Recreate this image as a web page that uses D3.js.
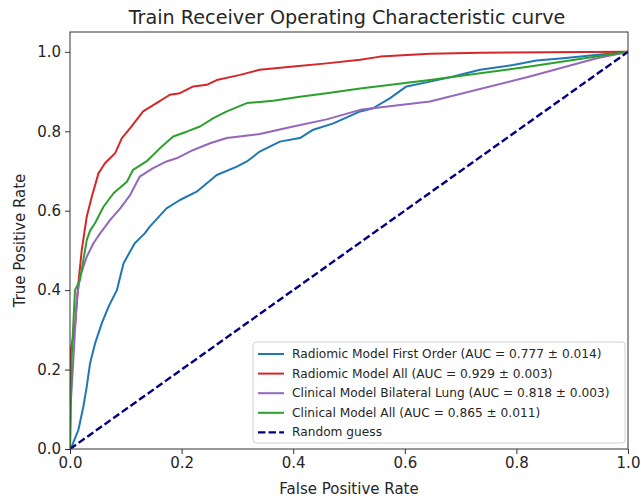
<!DOCTYPE html>
<html>
<head>
<meta charset="utf-8">
<title>Train ROC</title>
<script src="https://cdn.jsdelivr.net/npm/d3@7"></script>
<style>
  body { margin: 0; padding: 0; background: #fff; }
  text { font-family: "DejaVu Sans", sans-serif; fill: #262626; }
</style>
</head>
<body>
<div id="chart"></div>
<script>
// ---- data ----
var modelNames = [
  'Radiomic Model First Order (AUC = 0.777 ± 0.014)',
  'Radiomic Model All (AUC = 0.929 ± 0.003)',
  'Clinical Model Bilateral Lung (AUC = 0.818 ± 0.003)',
  'Clinical Model All (AUC = 0.865 ± 0.011)'
]
var modelColours = ['#1f77b4', '#d62728', '#9467bd', '#2ca02c']

var firstOrderFpr = [0, 0.003, 0.015, 0.024, 0.03, 0.036, 0.045, 0.057, 0.069, 0.084, 0.096, 0.116, 0.134, 0.143, 0.173, 0.197, 0.227, 0.263, 0.299, 0.317, 0.34, 0.376, 0.412, 0.436, 0.472, 0.52, 0.543, 0.573, 0.603, 0.645, 0.687, 0.735, 0.794, 0.836, 0.884, 1]
var firstOrderTpr = [0, 0.006, 0.048, 0.107, 0.157, 0.216, 0.266, 0.317, 0.358, 0.40, 0.468, 0.518, 0.543, 0.56, 0.606, 0.627, 0.648, 0.69, 0.711, 0.724, 0.749, 0.774, 0.783, 0.804, 0.82, 0.85, 0.858, 0.883, 0.913, 0.925, 0.938, 0.955, 0.967, 0.978, 0.984, 1]

var radiomicAllFpr = [0, 0, 0.009, 0.015, 0.021, 0.03, 0.039, 0.051, 0.063, 0.081, 0.093, 0.11, 0.131, 0.155, 0.179, 0.197, 0.221, 0.245, 0.263, 0.305, 0.34, 0.40, 0.46, 0.52, 0.556, 0.645, 0.735, 1]
var radiomicAllTpr = [0, 0.24, 0.308, 0.418, 0.50, 0.585, 0.635, 0.694, 0.72, 0.745, 0.783, 0.812, 0.85, 0.871, 0.892, 0.896, 0.913, 0.917, 0.929, 0.942, 0.955, 0.963, 0.971, 0.98, 0.988, 0.995, 0.998, 1]

var bilateralFpr = [0, 0.001, 0.006, 0.012, 0.018, 0.024, 0.03, 0.042, 0.054, 0.072, 0.09, 0.108, 0.125, 0.149, 0.173, 0.191, 0.221, 0.251, 0.281, 0.311, 0.34, 0.40, 0.46, 0.52, 0.645, 0.824, 0.944, 1]
var bilateralTpr = [0, 0.107, 0.224, 0.375, 0.434, 0.459, 0.484, 0.518, 0.543, 0.577, 0.606, 0.64, 0.686, 0.707, 0.724, 0.732, 0.753, 0.77, 0.783, 0.788, 0.793, 0.812, 0.83, 0.854, 0.875, 0.938, 0.984, 1]

var clinicalAllFpr = [0, 0.003, 0.009, 0.018, 0.03, 0.036, 0.045, 0.06, 0.078, 0.102, 0.113, 0.137, 0.161, 0.185, 0.209, 0.233, 0.257, 0.281, 0.317, 0.364, 0.412, 0.46, 0.52, 0.645, 0.824, 1]
var clinicalAllTpr = [0, 0.232, 0.40, 0.426, 0.526, 0.55, 0.569, 0.61, 0.644, 0.673, 0.703, 0.724, 0.757, 0.787, 0.799, 0.812, 0.833, 0.85, 0.871, 0.877, 0.887, 0.896, 0.908, 0.929, 0.963, 1]

var guessFpr = [0, 1]
var guessTpr = [0, 1]

var xTicks = [0, 0.2, 0.4, 0.6, 0.8, 1.0]
var yTicks = [0, 0.2, 0.4, 0.6, 0.8, 1.0]

var curves = [
  [firstOrderFpr, firstOrderTpr],
  [radiomicAllFpr, radiomicAllTpr],
  [bilateralFpr, bilateralTpr],
  [clinicalAllFpr, clinicalAllTpr]
]

// ---- layout ----
width = 641
height = 500
margin = {left: 70, right: 13, top: 32, bottom: 51}
tick_font = 15
label_font = 15
legend_font = 12.2

var svg = d3.select('#chart').append('svg')
  .attr('width', width).attr('height', height)

var x = d3.scaleLinear().domain([0, 1]).range([margin.left, width - margin.right])
var y = d3.scaleLinear().domain([0, 1.05]).range([height - margin.bottom, margin.top])

// curves, clipped to the axes box
svg.append('clipPath').attr('id', 'plotclip').append('rect')
  .attr('x', margin.left).attr('y', margin.top)
  .attr('width', width - margin.left - margin.right)
  .attr('height', height - margin.top - margin.bottom)

var line = d3.line().x(d => x(d[0])).y(d => y(d[1]))
var plot = svg.append('g').attr('clip-path', 'url(#plotclip)')

curves.forEach((c, i) => {
  var pts = c[0].map((f, j) => [f, c[1][j]])
  plot.append('path')
    .datum(pts)
    .attr('d', line)
    .style('fill', 'none')
    .style('stroke', modelColours[i])
    .style('stroke-width', 2)
    .style('stroke-linejoin', 'round')
})

plot.append('path')
  .datum(guessFpr.map((f, j) => [f, guessTpr[j]]))
  .attr('d', line)
  .style('fill', 'none')
  .style('stroke', 'navy')
  .style('stroke-width', 2.4)
  .style('stroke-dasharray', '7.4,3.2')

// axes
var xAxis = svg.append('g')
  .attr('transform', 'translate(0,' + (height - margin.bottom) + ')')
  .call(d3.axisBottom(x).tickValues(xTicks).tickFormat(d3.format('.1f')).tickSize(5).tickPadding(3))
var yAxis = svg.append('g')
  .attr('transform', 'translate(' + margin.left + ',0)')
  .call(d3.axisLeft(y).tickValues(yTicks).tickFormat(d3.format('.1f')).tickSize(5).tickPadding(4))

;[xAxis, yAxis].forEach(a => {
  a.select('.domain').remove()
  a.selectAll('line').style('stroke', '#333')
  a.selectAll('text').style('font-family', 'DejaVu Sans').style('font-size', tick_font + 'px').style('fill', '#262626')
})

// frame
svg.append('rect')
  .attr('x', margin.left).attr('y', margin.top)
  .attr('width', width - margin.left - margin.right)
  .attr('height', height - margin.top - margin.bottom)
  .style('fill', 'none').style('stroke', '#333').style('stroke-width', 1)

// titles
svg.append('text')
  .text('Train Receiver Operating Characteristic curve')
  .attr('x', (margin.left + width - margin.right) / 2 - 2)
  .attr('y', 24)
  .attr('text-anchor', 'middle')
  .style('font-size', '19.2px')

svg.append('text')
  .text('False Positive Rate')
  .attr('x', (margin.left + width - margin.right) / 2)
  .attr('y', 494)
  .attr('text-anchor', 'middle')
  .style('font-size', label_font + 'px')

svg.append('text')
  .text('True Positive Rate')
  .attr('transform', 'translate(25,' + ((margin.top + height - margin.bottom) / 2) + ') rotate(-90)')
  .attr('text-anchor', 'middle')
  .style('font-size', label_font + 'px')

// legend
var legendNames = modelNames.concat(['Random guess'])
var legendColours = modelColours.concat(['navy'])
var lx = 253, ly = 342, row = 19.6

svg.append('rect')
  .attr('x', lx).attr('y', ly)
  .attr('width', 372).attr('height', 101)
  .attr('rx', 3)
  .style('fill', 'white').style('fill-opacity', 0.8)
  .style('stroke', '#d0d0d0').style('stroke-width', 1)

legendNames.forEach((n, i) => {
  var yy = ly + 12 + i * row
  svg.append('line')
    .attr('x1', lx + 5).attr('x2', lx + 31)
    .attr('y1', yy).attr('y2', yy)
    .style('stroke', legendColours[i])
    .style('stroke-width', i == 4 ? 2.4 : 2)
    .style('stroke-dasharray', i == 4 ? '7.4,3.2' : null)
  svg.append('text')
    .text(n)
    .attr('x', lx + 39)
    .attr('y', yy + 4)
    .style('font-size', legend_font + 'px')
})
</script>
</body>
</html>
